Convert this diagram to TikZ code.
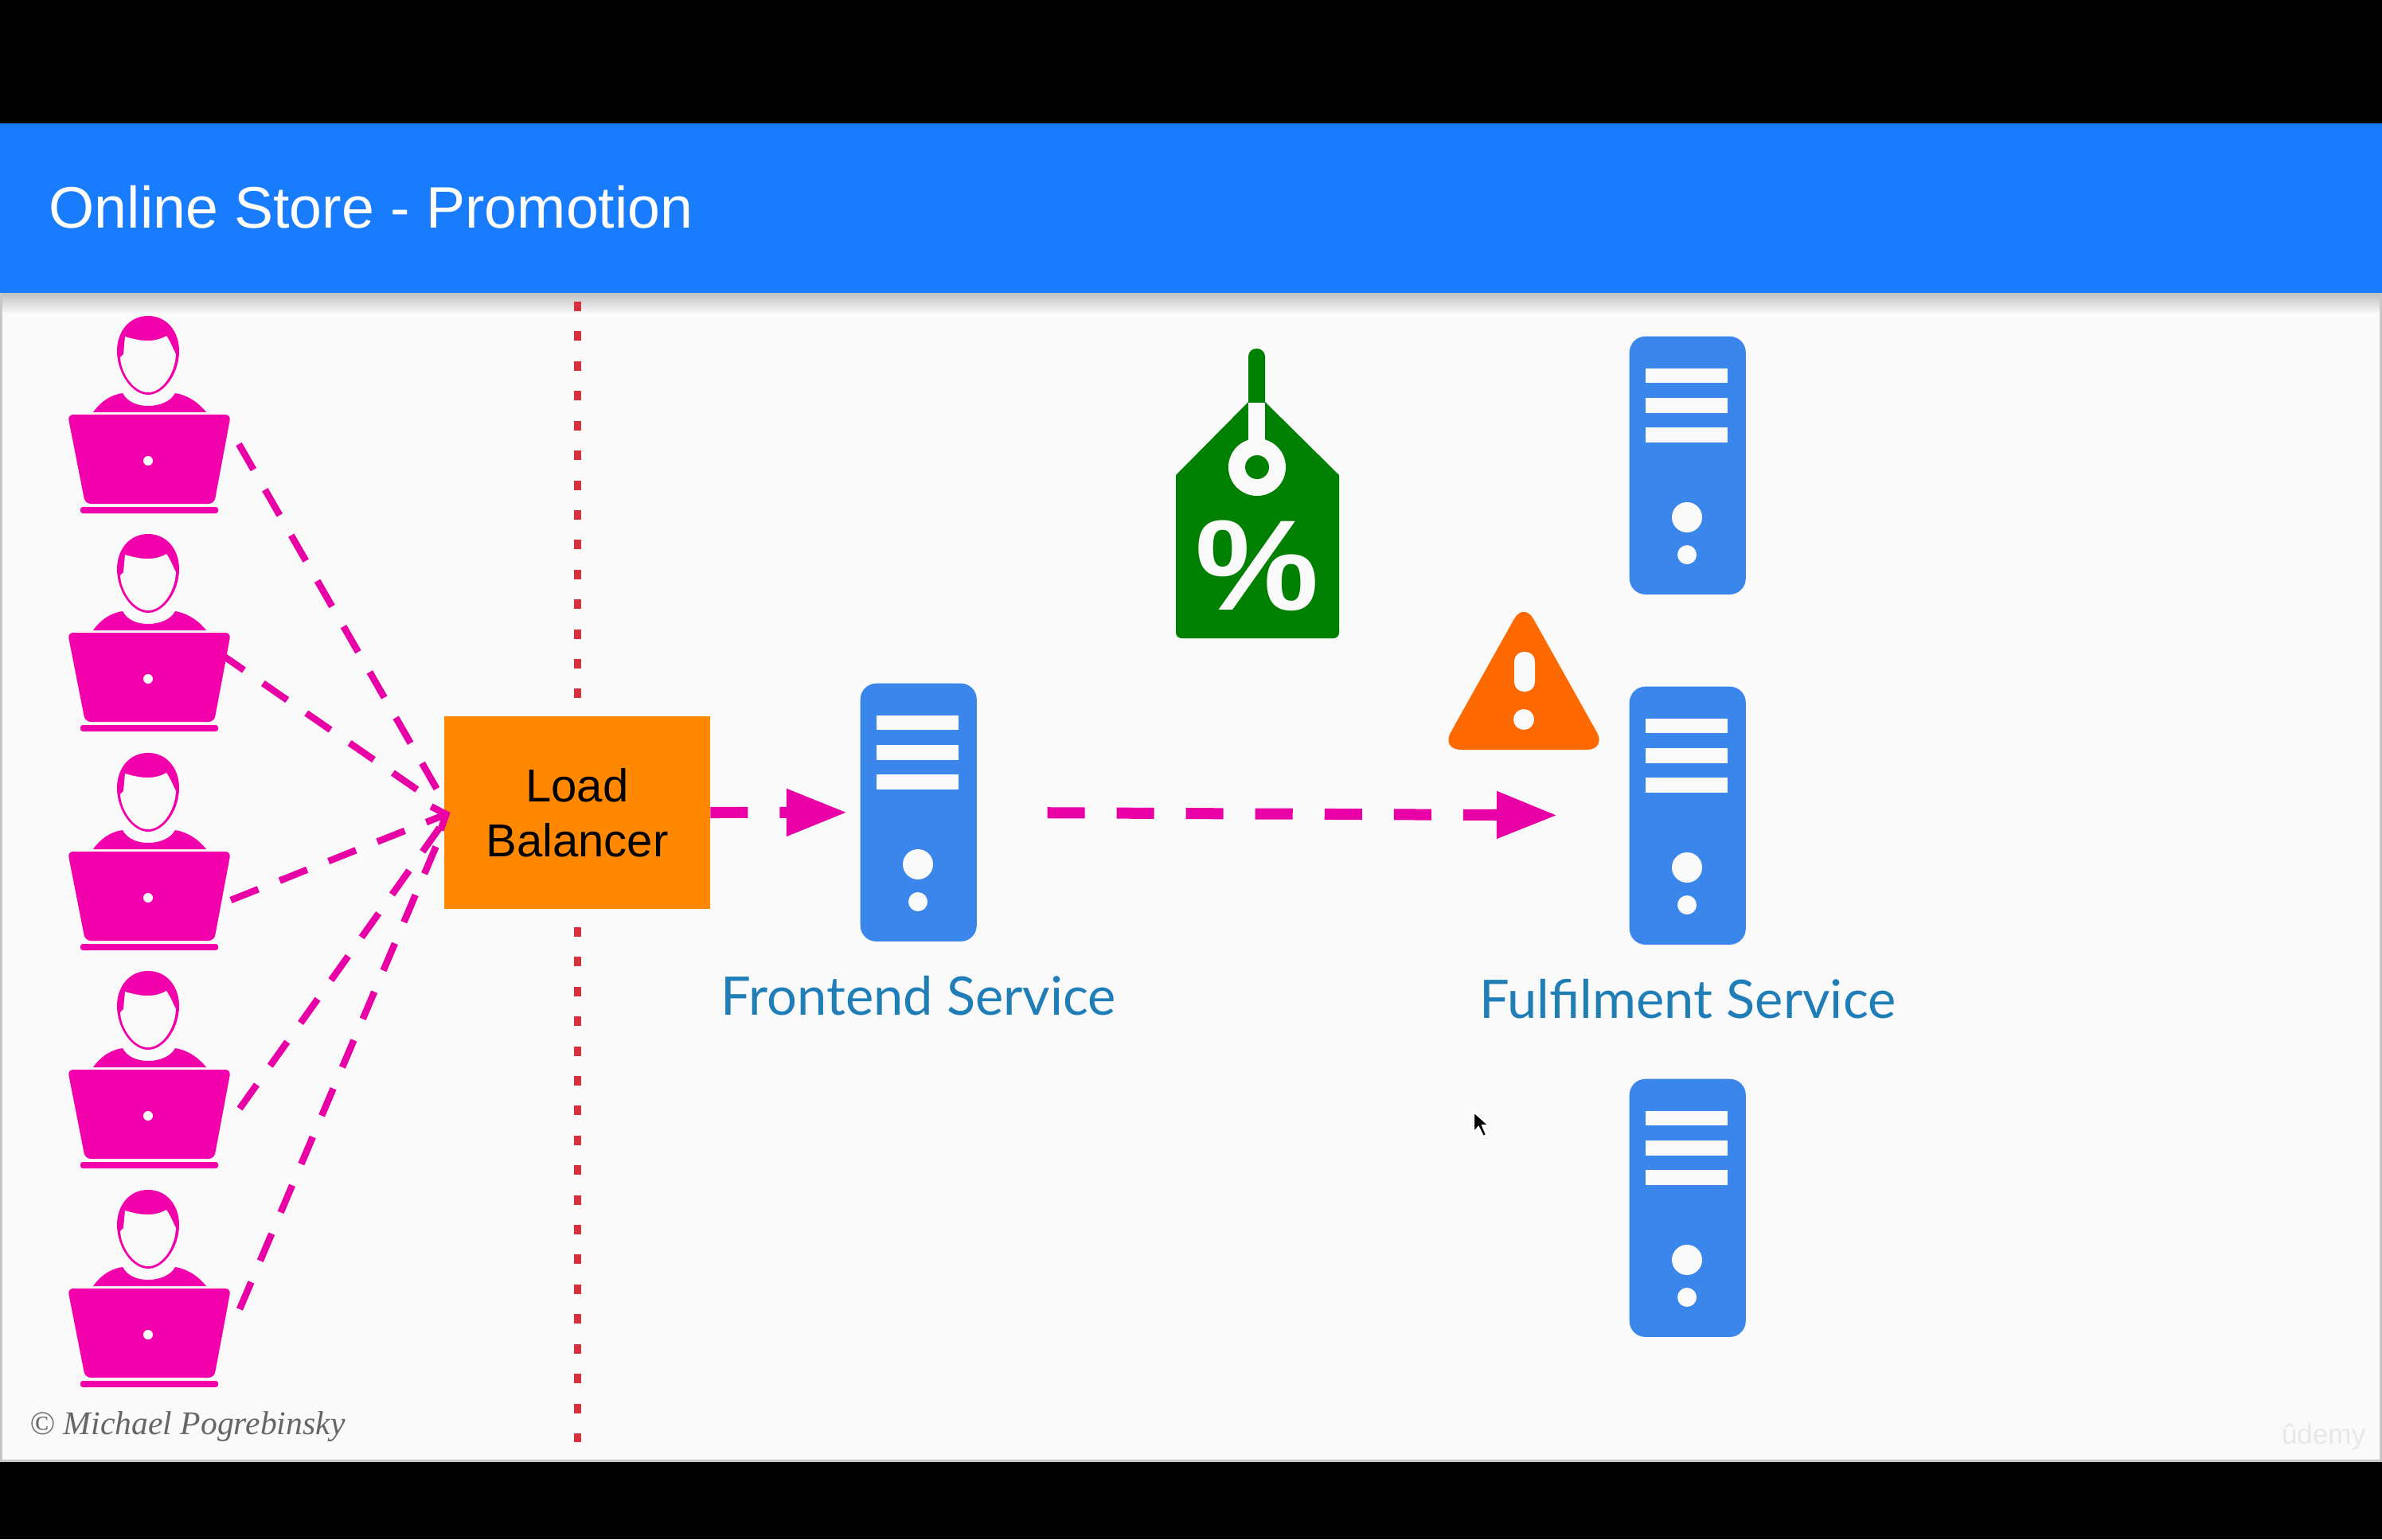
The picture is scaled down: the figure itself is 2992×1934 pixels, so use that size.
\documentclass[tikz,border=0pt]{standalone}
\usepackage{fontspec}
\setmainfont{Liberation Sans}
\newfontfamily\latofont{Lato}
\newfontfamily\creditfont{Liberation Serif}
\usetikzlibrary{positioning, arrows.meta, shapes.misc}
\definecolor{headerblue}{HTML}{187CFD}
\definecolor{panelgray}{HTML}{FAFAFA}
\definecolor{usermagenta}{HTML}{F200AC}
\definecolor{flowmagenta}{HTML}{E800A6}
\definecolor{serverblue}{HTML}{3A86EA}
\definecolor{boxorange}{HTML}{FF8800}
\definecolor{tagorange}{HTML}{FF6A00}
\definecolor{taggreen}{HTML}{008000}
\definecolor{dotred}{HTML}{D8303C}
\definecolor{labelblue}{HTML}{1F7DB8}
\tikzset{
  serverbox/.style={rectangle, fill=serverblue, rounded corners=0.2cm, inner sep=0pt,
                    minimum width=1.46cm, minimum height=3.24cm},
  pics/server/.style={code={
    \node[serverbox, anchor=north west] (-box) at (0,0) {};
    \fill[panelgray] (21,41) rectangle (124,59);
    \fill[panelgray] (21,78) rectangle (124,97);
    \fill[panelgray] (21,115) rectangle (124,134);
    \fill[panelgray] (73,228) circle[radius=19];
    \fill[panelgray] (73,275) circle[radius=12];
  }},
  pics/user/.style={code={
    % Kopf
    \fill[usermagenta] (0,0) .. controls (-24,0) and (-39,20) .. (-39,44)
      .. controls (-39,72) and (-20,99) .. (0,99)
      .. controls (20,99) and (39,72) .. (39,44)
      .. controls (39,20) and (24,0) .. (0,0) -- cycle;
    \fill[panelgray] (-29,26) .. controls (-15,30) and (-8,31) .. (0,31)
      .. controls (8,31) and (16,29) .. (23,25)
      .. controls (28,32) and (31,40) .. (35,48)
      .. controls (34,72) and (18,96) .. (0,96)
      .. controls (-18,96) and (-34,72) .. (-35,52) -- (-31,48) -- cycle;
    % Schultern
    \fill[usermagenta] (-69,121) .. controls (-60,108) and (-47,99) .. (-32,97)
      .. controls (-26,108) and (-14,113) .. (0,113)
      .. controls (14,113) and (28,108) .. (34,97)
      .. controls (48,99) and (63,108) .. (73,121) -- cycle;
    % Laptop
    \fill[usermagenta, rounded corners=0.07cm] (-101,124) -- (104,124) -- (83,236) -- (-79,236) -- cycle;
    \fill[usermagenta, rounded corners=0.03cm] (-85,240) rectangle (88,248);
    \fill[panelgray] (0,182) circle[radius=6];
  }},
  userflow/.style={draw=flowmagenta, line width=0.085cm, dash pattern=on 0.37cm off 0.29cm},
  mainflow/.style={draw=flowmagenta, line width=0.14cm, dash pattern=on 0.47cm off 0.4cm,
                   -{Triangle[length=0.76cm,width=0.56cm]}},
  divider/.style={draw=dotred, line width=0.09cm, dash pattern=on 0.12cm off 0.254cm},
  lbbox/.style={rectangle, fill=boxorange, minimum width=3.33cm, minimum height=2.41cm,
                inner sep=0pt, align=center, font=\fontsize{16.5}{19.6}\selectfont},
  servicelabel/.style={text=labelblue, inner sep=0pt, font=\latofont\fontsize{19}{23}\selectfont}
}
\begin{document}
\begin{tikzpicture}[x=0.01cm, y=-0.01cm, node distance=0.45cm]
      % Hintergrund
      \fill[black] (0,0) rectangle (2992,1934);
      \fill[black!22] (0,155) rectangle (2992,1837);
      \fill[panelgray] (3,368) rectangle (2989,1834);
      \shade[top color=black!25, bottom color=panelgray] (3,368) rectangle (2989,394);
      \fill[headerblue] (0,155) rectangle (2992,368);
      \node[anchor=west, inner sep=0pt, text=white, font=\fontsize{20.9}{24}\selectfont] (title) at (61,260) {Online Store - Promotion};

      % Trennlinie
      \coordinate (divtop) at (725,379);
      \coordinate (divbot) at (725,1812);
      \draw[divider] (divtop) -- (divbot);

      % Load Balancer
      \node[lbbox] (lb) at (725,1021) {Load\\Balancer};
      \coordinate (lbin) at ([xshift=0.08cm]lb.west);

      % Pfeile zum Load Balancer
      \coordinate (out1) at (300,558);
      \coordinate (out2) at (276,821);
      \coordinate (out3) at (290,1131);
      \coordinate (out4) at (301,1393);
      \coordinate (out5) at (301,1645);
      \draw[userflow, shorten >=0.3cm] (out1) -- (lbin);
      \draw[userflow, shorten >=0.4cm] (out2) -- (lbin);
      \draw[userflow, -{Straight Barb[length=0.14cm,width=0.32cm]}] (out3) -- (lbin);
      \draw[userflow, shorten >=0.1cm] (out4) -- (lbin);
      \draw[userflow, shorten >=0.3cm] (out5) -- (lbin);

      % Nutzer
      \pic (user1) at (186,397) {user};
      \pic (user2) at (186,671) {user};
      \pic (user3) at (186,946) {user};
      \pic (user4) at (186,1220) {user};
      \pic (user5) at (186,1495) {user};

      % Server
      \pic (fe) at (1080,858) {server};
      \pic (ff1) at (2046,422) {server};
      \pic (ff2) at (2046,862) {server};
      \pic (ff3) at (2046,1355) {server};
      \node[servicelabel, below=0.42cm of fe-box] (felabel) {Frontend Service};
      \node[servicelabel, below=0.42cm of ff2-box] (fflabel) {Fulfilment Service};

      % Pfeile
      \draw[mainflow, shorten >=0.16cm] (lb.east) -- (fe-box.west);
      \draw[mainflow, shorten <=0.88cm, shorten >=0.9cm] (fe-box.east) -- (ff2-box.west);

      % Preisschild
      \fill[taggreen] (1568,505) -- (1589,505) -- (1682,597) -- (1682,790) [rounded corners=0.07cm] -- (1682,802) -- (1477,802) [sharp corners] -- (1477,597) -- cycle;
      \fill[taggreen] (1568,505) [rounded corners=0.1cm] -- (1568,438) -- (1589,438) [sharp corners] -- (1589,505) -- cycle;
      \fill[panelgray] (1568,506) rectangle (1589,560);
      \fill[panelgray] (1579,587) circle[radius=36];
      \fill[taggreen] (1579,587) circle[radius=15];
      \node[text=panelgray, inner sep=0pt, xscale=1.08, transform shape, font=\bfseries\fontsize{46}{46}\selectfont] (percent) at (1579,711) {\%};

      % Warnung
      \fill[tagorange, rounded corners=0.25cm] (1914,756) -- (2018,942) -- (1810,942) -- cycle;
      \fill[panelgray, rounded corners=0.12cm] (1902,819) rectangle (1928,869);
      \fill[panelgray] (1914,904) circle[radius=13];

      % Texte
      \node[anchor=base west, inner sep=0pt, text=black!60, font=\creditfont\itshape\fontsize{11.85}{14}\selectfont] (credit) at (37,1802) {© Michael Pogrebinsky};
      \node[anchor=base east, inner sep=0pt, text=black!9, font=\fontsize{10}{12}\selectfont] (brand) at (2972,1814) {ûdemy};

      % Mauszeiger
      \fill[black, draw=white, line width=0.02cm] (1851,1397) -- (1851,1423) -- (1857,1416) -- (1863,1428) -- (1867,1426) -- (1862,1414) -- (1870,1414) -- cycle;
\end{tikzpicture}
\end{document}
